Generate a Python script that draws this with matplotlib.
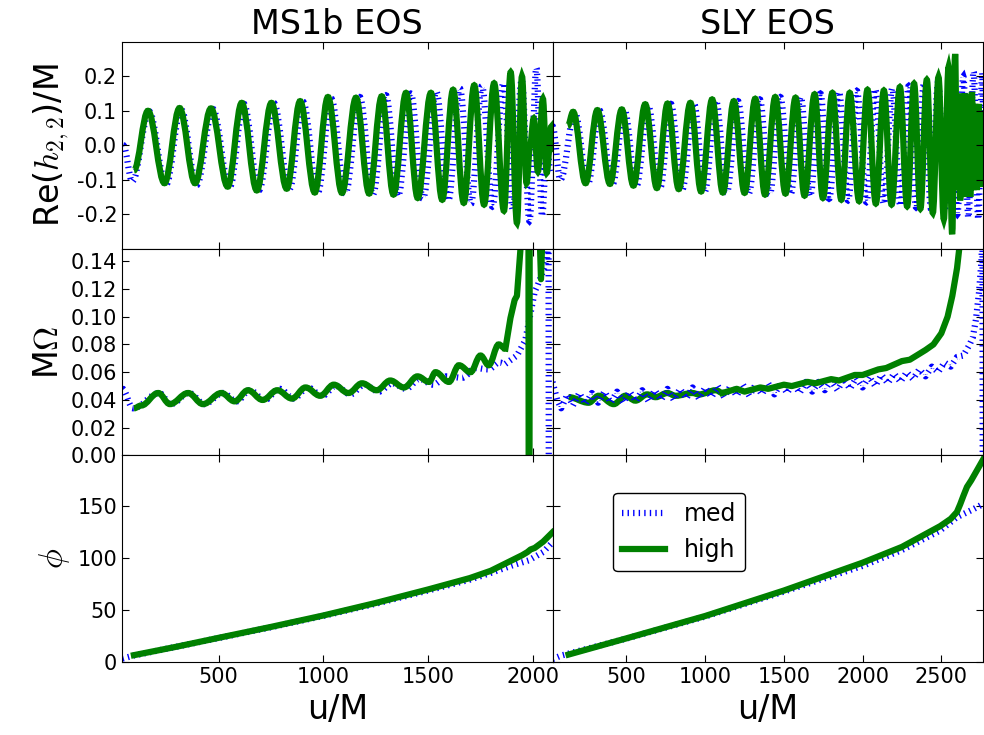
import matplotlib
matplotlib.use('Agg')
import matplotlib.pyplot as plt
from matplotlib.path import Path
from matplotlib.patches import PathPatch

# ---- data (u/M, value) ----
# Re(h22) extrema, MS1b
ms1b_h_high_u = [95, 162, 241, 313, 387, 463, 543, 610, 682, 752, 825, 889, 959, 1022, 1089, 1156,
                 1219, 1279, 1335, 1395, 1451, 1514, 1568, 1620, 1671, 1721, 1768, 1816, 1863, 1895,
                 1925, 1949, 1971, 1988, 2005, 2025, 2049, 2067, 2089, 2095]
ms1b_h_high_v = [-0.073, 0.100, -0.110, 0.108, -0.110, 0.107, -0.120, 0.123, -0.131, 0.123, -0.126,
                 0.128, -0.137, 0.140, -0.138, 0.138, -0.140, 0.142, -0.143, 0.152, -0.153, 0.152,
                 -0.158, 0.161, -0.167, 0.174, -0.172, 0.180, -0.190, 0.212, -0.225, 0.200, -0.110,
                 0.000, 0.078, -0.076, 0.135, -0.080, 0.054, -0.020]
ms1b_h_med_u = [44, 87, 168, 248, 320, 395, 472, 552, 620, 693, 764, 838, 903, 973, 1038, 1105, 1174,
                1237, 1299, 1357, 1418, 1476, 1540, 1597, 1652, 1705, 1758, 1808, 1860, 1905, 1948,
                1985, 2018, 2045, 2068, 2086]
ms1b_h_med_v = [0.000, -0.105, 0.098, -0.115, 0.105, -0.115, 0.105, -0.122, 0.120, -0.130, 0.122,
                -0.128, 0.126, -0.138, 0.135, -0.140, 0.140, -0.143, 0.145, -0.148, 0.150, -0.155,
                0.155, -0.160, 0.165, -0.170, 0.172, -0.178, 0.180, -0.185, 0.190, -0.220, 0.225,
                -0.206, 0.000, -0.080]

# Re(h22) extrema, SLY
sly_h_high_u = [127, 161, 240, 315, 395, 470, 544, 619, 693, 761, 832, 906, 974, 1044, 1112, 1182,
                1250, 1318, 1380, 1445, 1510, 1574, 1631, 1695, 1748, 1808, 1865, 1918, 1978, 2031,
                2084, 2135, 2184, 2237, 2283, 2327, 2367, 2408, 2446, 2482, 2516, 2546, 2569, 2588,
                2600, 2610, 2620, 2631, 2641, 2652, 2662, 2673, 2684, 2695, 2705, 2716, 2726, 2737,
                2748, 2759, 2766]
sly_h_high_v = [0.056, 0.097, -0.110, 0.102, -0.112, 0.104, -0.117, 0.119, -0.124, 0.121, -0.127,
                0.123, -0.134, 0.133, -0.137, 0.128, -0.138, 0.135, -0.143, 0.140, -0.140, 0.138,
                -0.146, 0.148, -0.153, 0.152, -0.158, 0.152, -0.162, 0.161, -0.169, 0.159, -0.172,
                0.169, -0.177, 0.179, -0.184, 0.190, -0.196, 0.198, -0.215, 0.227, -0.258, 0.265,
                -0.130, 0.140, -0.160, 0.150, -0.150, 0.150, -0.140, 0.140, -0.150, 0.155, -0.130,
                0.120, -0.130, 0.120, -0.120, 0.100, -0.050]
sly_h_med_u = [30, 80, 172, 255, 330, 410, 487, 562, 638, 713, 782, 853, 928, 997, 1068, 1137, 1208,
               1277, 1347, 1410, 1477, 1543, 1607, 1666, 1732, 1787, 1849, 1908, 1963, 2025, 2080,
               2135, 2188, 2240, 2293, 2340, 2390, 2435, 2480, 2522, 2565, 2602, 2640, 2672, 2705,
               2735, 2760, 2766]
sly_h_med_v = [0.055, -0.100, 0.095, -0.112, 0.100, -0.115, 0.103, -0.120, 0.115, -0.125, 0.120,
               -0.130, 0.122, -0.135, 0.130, -0.138, 0.128, -0.140, 0.133, -0.143, 0.140, -0.142,
               0.140, -0.148, 0.150, -0.155, 0.155, -0.160, 0.158, -0.165, 0.163, -0.170, 0.165,
               -0.175, 0.172, -0.180, 0.180, -0.185, 0.185, -0.190, 0.195, -0.200, 0.200, -0.210,
               0.215, -0.215, 0.210, 0.100]

# M*Omega
ms1b_w_high_u = [95, 130, 211, 267, 354, 425, 513, 576, 640, 710, 780, 850, 915, 985, 1050, 1120,
                 1185, 1255, 1320, 1385, 1450, 1505, 1536, 1600, 1648, 1703, 1751, 1790, 1838, 1870,
                 1894, 1914, 1925, 1941, 1960, 1980, 1981, 1985, 1986, 2025, 2040, 2055, 2095]
ms1b_w_high_v = [0.034, 0.036, 0.045, 0.037, 0.045, 0.037, 0.045, 0.039, 0.047, 0.040, 0.047,
                 0.041, 0.049, 0.043, 0.051, 0.045, 0.052, 0.047, 0.054, 0.049, 0.057, 0.053,
                 0.060, 0.053, 0.065, 0.060, 0.072, 0.065, 0.080, 0.077, 0.099, 0.112, 0.115,
                 0.147, 0.200, 0.200, 0.000, 0.000, 0.200, 0.200, 0.127, 0.200, 0.200]
ms1b_w_med_u = [40, 90, 215, 272, 360, 432, 520, 585, 650, 720, 790, 860, 925, 995, 1060, 1130, 1195,
                1265, 1330, 1395, 1460, 1525, 1590, 1664, 1727, 1790, 1840, 1870, 1925, 1965, 2010,
                2025, 2068, 2076, 2077]
ms1b_w_med_v = [0.048, 0.034, 0.045, 0.037, 0.045, 0.037, 0.045, 0.039, 0.047, 0.040, 0.048,
                0.041, 0.049, 0.043, 0.050, 0.044, 0.051, 0.046, 0.052, 0.048, 0.055, 0.051,
                0.057, 0.056, 0.063, 0.062, 0.067, 0.066, 0.072, 0.083, 0.118, 0.123, 0.140,
                0.160, 0.000]

sly_w_high_u = [132, 259, 323, 419, 493, 557, 631, 685, 759, 812, 918, 961, 1068, 1110, 1200, 1250,
                1350, 1400, 1500, 1550, 1650, 1700, 1800, 1850, 1950, 2000, 2100, 2150, 2250, 2300,
                2400, 2450, 2500, 2540, 2570, 2600, 2615, 2630, 2766]
sly_w_high_v = [0.042, 0.038, 0.043, 0.037, 0.043, 0.0395, 0.044, 0.042, 0.045, 0.043, 0.045,
                0.044, 0.047, 0.045, 0.048, 0.046, 0.049, 0.048, 0.051, 0.050, 0.053, 0.052,
                0.055, 0.054, 0.058, 0.058, 0.062, 0.063, 0.068, 0.069, 0.076, 0.080, 0.088,
                0.100, 0.115, 0.135, 0.150, 0.200, 0.200]
sly_w_med_u = [30, 60, 85, 125, 160, 200, 240, 280, 320, 360, 400, 440, 480, 520, 560, 600, 640, 680,
               720, 760, 800, 840, 880, 920, 960, 1000, 1040, 1080, 1120, 1160, 1200, 1240, 1280,
               1320, 1360, 1400, 1440, 1480, 1520, 1560, 1600, 1640, 1680, 1720, 1760, 1800, 1840,
               1880, 1920, 1960, 2000, 2040, 2080, 2120, 2160, 2200, 2240, 2280, 2320, 2360, 2400,
               2440, 2480, 2520, 2560, 2600, 2640, 2680, 2700, 2720, 2740, 2755, 2762, 2763]
sly_w_med_v = [0.053, 0.040, 0.034, 0.044, 0.036, 0.045, 0.037, 0.045, 0.038, 0.046, 0.038, 0.046,
               0.038, 0.046, 0.039, 0.047, 0.039, 0.047, 0.040, 0.048, 0.040, 0.048, 0.041, 0.049,
               0.041, 0.049, 0.042, 0.050, 0.042, 0.050, 0.043, 0.051, 0.043, 0.051, 0.044, 0.052,
               0.044, 0.052, 0.045, 0.052, 0.045, 0.053, 0.046, 0.053, 0.047, 0.054, 0.047, 0.055,
               0.048, 0.056, 0.049, 0.057, 0.050, 0.058, 0.052, 0.059, 0.053, 0.060, 0.055, 0.062,
               0.057, 0.064, 0.060, 0.067, 0.064, 0.071, 0.072, 0.080, 0.085, 0.098, 0.118, 0.140,
               0.160, 0.000]

# phase
ms1b_p_high_u = [95, 300, 500, 750, 1000, 1250, 1500, 1700, 1800, 1900, 1950, 1975, 1990, 2010, 2050, 2095]
ms1b_p_high_v = [6.8, 15.0, 23.5, 34.0, 45.0, 57.0, 70.0, 81.0, 88.0, 98.0, 103.0, 106.0, 108.5,
                 110.0, 116.0, 125.0]
ms1b_p_med_u = [40, 95, 300, 500, 750, 1000, 1250, 1500, 1700, 1800, 1900, 1981, 2050, 2095]
ms1b_p_med_v = [3.5, 6.5, 15.0, 23.3, 33.7, 44.6, 56.3, 69.0, 79.5, 86.0, 93.0, 98.0, 106.0, 115.5]
sly_p_high_u = [132, 500, 1000, 1500, 2000, 2250, 2493, 2560, 2599, 2620, 2640, 2663, 2690, 2727, 2769]
sly_p_high_v = [7.4, 23.0, 44.5, 69.0, 95.8, 111.0, 131.0, 138.0, 144.5, 152.0, 160.0, 168.7, 175.0,
                184.8, 196.0]
sly_p_med_u = [30, 87, 500, 1000, 1500, 2003, 2250, 2493, 2599, 2700, 2769]
sly_p_med_v = [3.0, 6.5, 22.8, 44.0, 68.0, 92.9, 108.0, 126.8, 139.6, 147.0, 152.6]

titles = ['MS1b EOS', 'SLY EOS']
xlims = [(38, 2095), (30, 2765)]
xticks = [[500, 1000, 1500, 2000], [500, 1000, 1500, 2000, 2500]]

plt.rcParams.update({
    'mathtext.fontset': 'cm',
    'lines.scale_dashes': False,
    'xtick.direction': 'in', 'ytick.direction': 'in',
    'xtick.top': True, 'ytick.right': True,
    'xtick.major.size': 5, 'ytick.major.size': 5,
    'xtick.labelsize': 15, 'ytick.labelsize': 15,
})

K = 0.3634  # bezier handle for cosine-like half waves
MED = dict(color='b', lw=4.5, dashes=(1, 3))
HIGH = dict(color='g', lw=4.5)


def wave(ax, u, v, style):
    verts = [(u[0], v[0])]
    codes = [Path.MOVETO]
    for i in range(len(u) - 1):
        d = (u[i + 1] - u[i]) * K
        verts += [(u[i] + d, v[i]), (u[i + 1] - d, v[i + 1]), (u[i + 1], v[i + 1])]
        codes += [Path.CURVE4] * 3
    ls = (0, style['dashes']) if 'dashes' in style else '-'
    ax.add_patch(PathPatch(Path(verts, codes), fill=False, edgecolor=style['color'],
                           lw=style['lw'], linestyle=ls, capstyle='butt'))


def wiggle_then_line(ax, u, v, u_split, style):
    # smooth wiggles before u_split, straight segments after it
    n = u.index(u_split) + 1
    wave(ax, u[:n], v[:n], style)
    ax.plot(u[n - 1:], v[n - 1:], **style)


fig, axes = plt.subplots(3, 2, figsize=(9.84, 7.35), dpi=100)
fig.subplots_adjust(left=0.124, right=0.999, top=0.943, bottom=0.099, wspace=0, hspace=0)

h_data = [(ms1b_h_med_u, ms1b_h_med_v, ms1b_h_high_u, ms1b_h_high_v),
          (sly_h_med_u, sly_h_med_v, sly_h_high_u, sly_h_high_v)]
p_data = [(ms1b_p_med_u, ms1b_p_med_v, ms1b_p_high_u, ms1b_p_high_v),
          (sly_p_med_u, sly_p_med_v, sly_p_high_u, sly_p_high_v)]

for c in range(2):
    mu, mv, hu, hv = h_data[c]
    wave(axes[0, c], mu, mv, MED)
    wave(axes[0, c], hu, hv, HIGH)

    mu, mv, hu, hv = p_data[c]
    axes[2, c].plot(mu, mv, label='med', **MED)
    axes[2, c].plot(hu, hv, label='high', **HIGH)

wiggle_then_line(axes[1, 0], ms1b_w_med_u, ms1b_w_med_v, 1870, MED)
wiggle_then_line(axes[1, 0], ms1b_w_high_u, ms1b_w_high_v, 1870, HIGH)
axes[1, 1].plot(sly_w_med_u, sly_w_med_v, **MED)
wiggle_then_line(axes[1, 1], sly_w_high_u, sly_w_high_v, 1110, HIGH)

for c in range(2):
    axes[0, c].set_title(titles[c], fontsize=24)
    axes[0, c].set_ylim(-0.3, 0.3)
    axes[0, c].set_yticks([-0.2, -0.1, 0.0, 0.1, 0.2])
    axes[1, c].set_ylim(0, 0.149)
    axes[1, c].set_yticks([0.0, 0.02, 0.04, 0.06, 0.08, 0.10, 0.12, 0.14])
    axes[2, c].set_ylim(0, 199)
    axes[2, c].set_yticks([0, 50, 100, 150])
    for r in range(3):
        ax = axes[r, c]
        ax.set_xlim(*xlims[c])
        ax.set_xticks(xticks[c])
        if r < 2:
            ax.tick_params(labelbottom=False)
        if c == 1:
            ax.tick_params(labelleft=False)
    axes[2, c].set_xlabel('u/M', fontsize=24)

axes[0, 0].yaxis.set_major_formatter(matplotlib.ticker.FormatStrFormatter('%.1f'))
axes[1, 0].yaxis.set_major_formatter(matplotlib.ticker.FormatStrFormatter('%.2f'))
axes[0, 0].set_ylabel(r'Re($h_{2,2}$)/M', fontsize=24)
axes[1, 0].set_ylabel(r'M$\Omega$', fontsize=24)
axes[2, 0].set_ylabel(r'$\phi$', fontsize=24)

axes[2, 1].legend(loc='upper left', bbox_to_anchor=(0.14, 0.82), borderaxespad=0, fontsize=17,
                  handlelength=1.8, fancybox=True, framealpha=1, edgecolor='k')

fig.savefig('out.png', dpi=100)
